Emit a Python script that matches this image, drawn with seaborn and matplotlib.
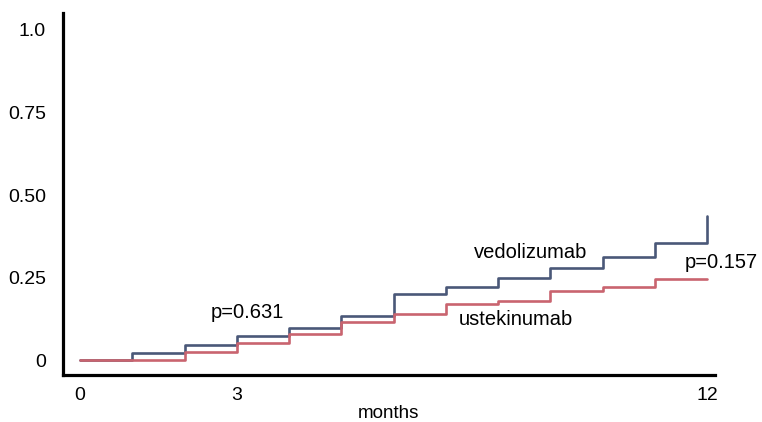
import matplotlib
matplotlib.use("Agg")
import matplotlib.pyplot as plt
import seaborn as sns
import pandas as pd

# ---- data ----
months = [0, 1, 2, 3, 4, 5, 6, 7, 8, 9, 10, 11, 12]
vedolizumab = [0.0, 0.022, 0.047, 0.073, 0.096, 0.133, 0.200, 0.222, 0.250, 0.278, 0.313, 0.354, 0.436]
ustekinumab = [0.0, 0.0, 0.025, 0.052, 0.078, 0.114, 0.141, 0.169, 0.180, 0.209, 0.220, 0.245, 0.245]
groups = ["vedolizumab", "ustekinumab"]
colors = {"vedolizumab": "#4a5878", "ustekinumab": "#c9646f"}
x_ticks = [0, 3, 12]
x_tick_labels = ["0", "3", "12"]
y_ticks = [0, 0.25, 0.50, 0.75, 1.0]
y_tick_labels = ["0", "0.25", "0.50", "0.75", "1.0"]
p_values = ["p=0.631", "p=0.157"]

df = pd.DataFrame({
    "month": months + months,
    "value": vedolizumab + ustekinumab,
    "group": ["vedolizumab"] * len(months) + ["ustekinumab"] * len(months),
})

sns.set_style("white")
plt.rcParams["font.family"] = ["Liberation Sans", "DejaVu Sans"]
plt.rcParams["text.color"] = "black"
plt.rcParams["axes.labelcolor"] = "black"

fig = plt.figure(figsize=(7.62, 4.22), dpi=100)
ax = fig.add_axes([62.5 / 762, (422 - 375) / 422, (715 - 62.5) / 762, (375 - 12.7) / 422])

sns.lineplot(data=df, x="month", y="value", hue="group", hue_order=groups,
             palette=colors, drawstyle="steps-post", linewidth=1.9,
             legend=False, ax=ax, errorbar=None)

ax.set_xlim(-0.335, 12.15)
ax.set_ylim(-0.045, 1.052)
ax.set_xticks(x_ticks)
ax.set_xticklabels(x_tick_labels)
ax.set_yticks(y_ticks)
ax.set_yticklabels(y_tick_labels)
ax.tick_params(axis="both", length=0, labelsize=14, colors="black", labelcolor="black")
ax.tick_params(axis="y", pad=12)
ax.tick_params(axis="x", pad=9)
ax.set_ylabel("")
ax.set_xlabel("months", fontsize=13.5, labelpad=0, color="black")

for side in ["top", "right"]:
    ax.spines[side].set_visible(False)
for side in ["left", "bottom"]:
    ax.spines[side].set_color("black")
    ax.spines[side].set_linewidth(2.3)

fs = 14.5
ax.text(3.2, 0.127, p_values[0], ha="center", va="baseline", fontsize=fs, color="black")
ax.text(8.62, 0.308, groups[0], ha="center", va="baseline", fontsize=fs, color="black")
ax.text(12.27, 0.278, p_values[1], ha="center", va="baseline", fontsize=fs, color="black", clip_on=False)
ax.text(8.34, 0.106, groups[1], ha="center", va="baseline", fontsize=fs, color="black")

fig.savefig("out.png", dpi=100)
